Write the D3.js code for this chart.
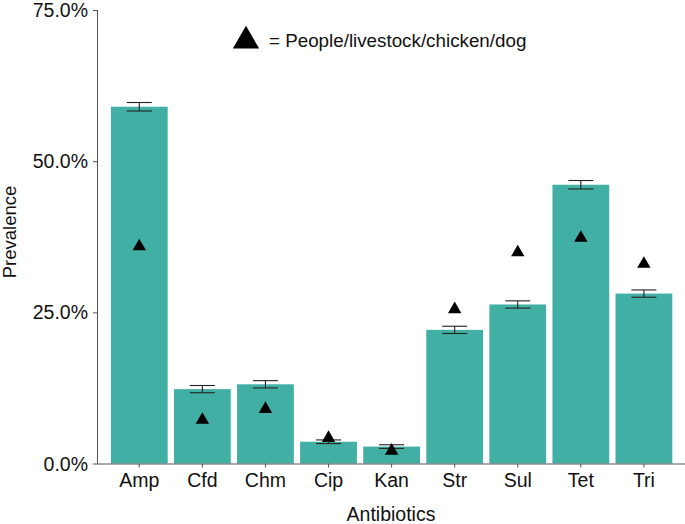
<!DOCTYPE html>
<html><head><meta charset="utf-8">
<script src="https://cdn.jsdelivr.net/npm/d3@7"></script>
<style>body{margin:0;background:#fff}svg{display:block}text{font-family:"Liberation Sans",Arial,Helvetica,sans-serif}</style>
</head><body><svg id="c" width="685" height="524"></svg>
<script>
const categories = ["Amp","Cfd","Chm","Cip","Kan","Str","Sul","Tet","Tri"];
const prevalence = [59.0, 12.3, 13.1, 3.6, 2.8, 22.1, 26.3, 46.1, 28.1];
const errorMargin = [0.7, 0.6, 0.6, 0.3, 0.3, 0.6, 0.6, 0.7, 0.6];
const otherHosts = [35.9, 7.2, 9.0, 4.2, 2.1, 25.5, 34.9, 37.3, 33.0];
const yTicks = [0, 25, 50, 75];
const legendText = "= People/livestock/chicken/dog";

const svg = d3.select("#c");
const x = d3.scaleBand().domain(categories).range([104.6, 678.6]).padding(0.1);
const y = d3.scaleLinear().domain([0, 75]).range([463.5, 10]);
const axisColor = "#555";
const barColor = "#41AFA3";

// bars
svg.selectAll("rect.bar").data(categories).join("rect")
  .attr("x", d => x(d)).attr("width", x.bandwidth())
  .attr("y", (d,i) => y(prevalence[i]))
  .attr("height", (d,i) => y(0) - y(prevalence[i]))
  .attr("fill", barColor);

// error bars
const cap = 12.5;
const eg = svg.append("g").attr("stroke", "#222").attr("stroke-width", 1.1);
categories.forEach((d,i) => {
  const cx = x(d) + x.bandwidth()/2;
  const lo = y(prevalence[i]-errorMargin[i]), hi = y(prevalence[i]+errorMargin[i]);
  eg.append("line").attr("x1",cx).attr("x2",cx).attr("y1",lo).attr("y2",hi);
  eg.append("line").attr("x1",cx-cap).attr("x2",cx+cap).attr("y1",lo).attr("y2",lo);
  eg.append("line").attr("x1",cx-cap).attr("x2",cx+cap).attr("y1",hi).attr("y2",hi);
});

// triangles
const tri = d3.symbol().type(d3.symbolTriangle).size(78);
svg.selectAll("path.tri").data(categories).join("path")
  .attr("d", tri)
  .attr("transform", (d,i) => `translate(${x(d)+x.bandwidth()/2},${y(otherHosts[i])})`)
  .attr("fill", "#000");

// axes
const yAxis = d3.axisLeft(y).tickValues(yTicks).tickFormat(d => d.toFixed(1) + "%").tickSize(5).tickPadding(5);
const gy = svg.append("g").attr("transform","translate(98,0)").call(yAxis);
gy.select(".domain").attr("stroke", axisColor).attr("d", `M-0.5,${y(75)}V${y(0)}`);
gy.selectAll(".tick line").attr("stroke", axisColor);
gy.selectAll(".tick text").attr("font-size", 19.5).attr("fill","#111").attr("dy", "0.34em");

const xAxis = d3.axisBottom(x).tickSize(4).tickPadding(6);
const gx = svg.append("g").attr("transform",`translate(0,${y(0)})`).call(xAxis);
gx.select(".domain").attr("stroke", axisColor).attr("d", `M97.5,0.5H685`);
gx.selectAll(".tick line").attr("stroke", axisColor);
gx.selectAll(".tick text").attr("font-size", 19.5).attr("fill","#111");

// axis titles
svg.append("text").attr("x", 391).attr("y", 521).attr("text-anchor","middle")
  .attr("font-size", 19.5).attr("fill","#111").text("Antibiotics");
svg.append("text").attr("transform","translate(15.5,232) rotate(-90)").attr("text-anchor","middle")
  .attr("font-size", 18.5).attr("fill","#111").text("Prevalence");

// legend
svg.append("path").attr("d", d3.symbol().type(d3.symbolTriangle).size(300)())
  .attr("transform","translate(246,41)").attr("fill","#000");
svg.append("text").attr("x", 269).attr("y", 47).attr("font-size", 18.8).attr("fill","#111").text(legendText);
</script></body></html>
